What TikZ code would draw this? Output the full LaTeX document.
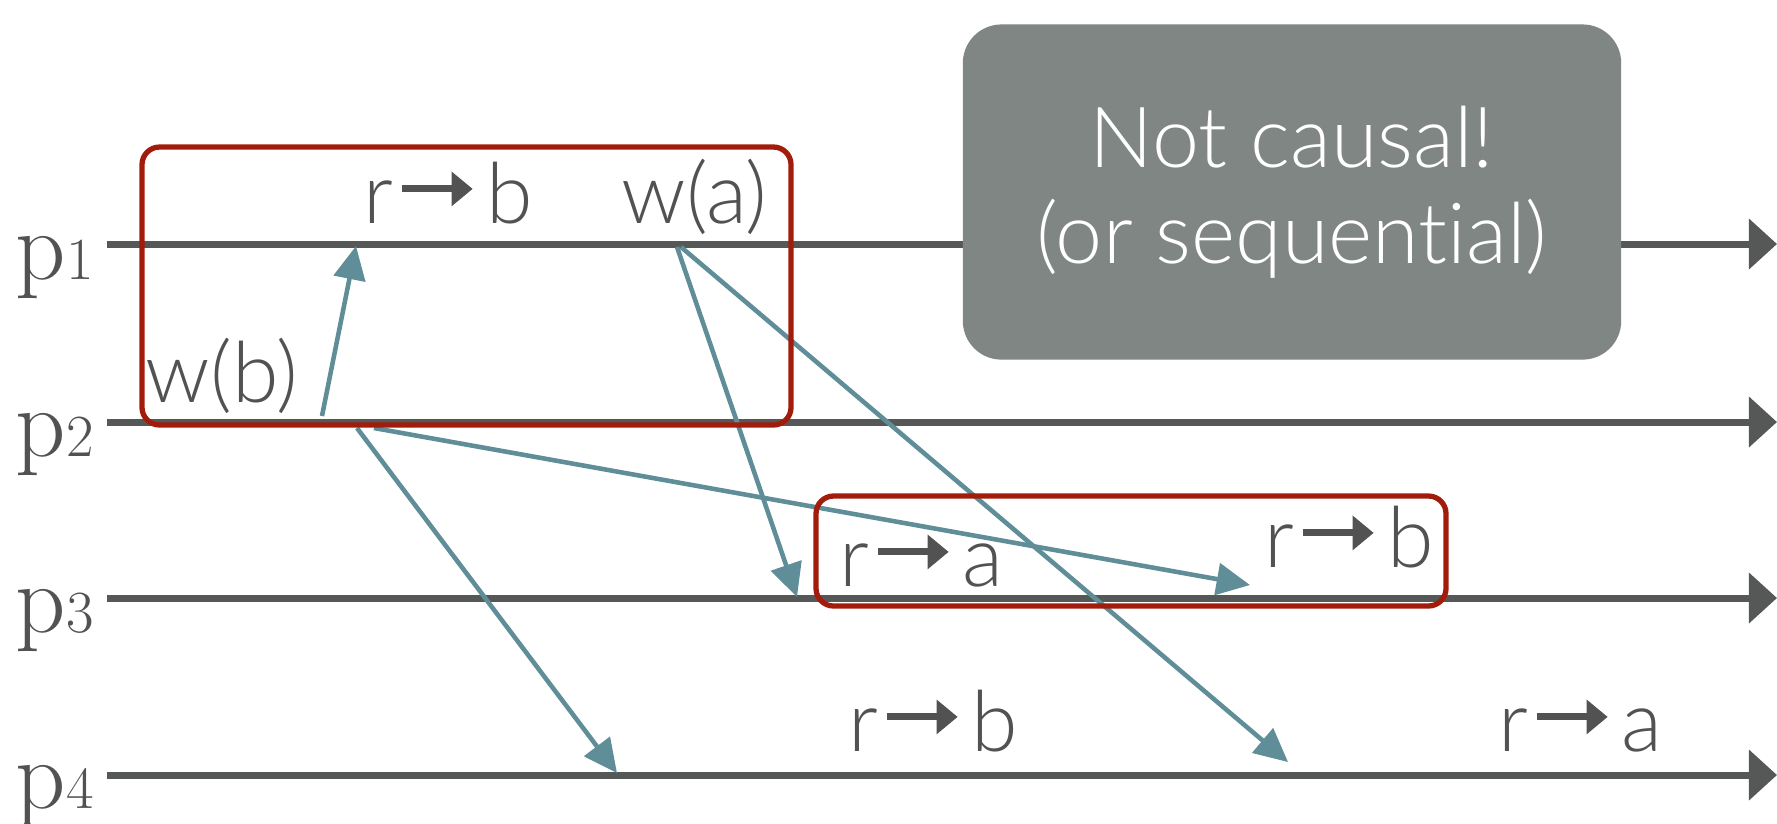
\documentclass[tikz,border=0pt]{standalone}
\usepackage{fontspec}
\newfontfamily\thinsans{Lato Light}[Ligatures=NoCommon]
\usetikzlibrary{arrows.meta, positioning}

\definecolor{procgray}{RGB}{85,88,87}
\definecolor{msgteal}{RGB}{95,142,152}
\definecolor{grpred}{RGB}{162,28,12}
\definecolor{notegray}{RGB}{128,134,131}
\definecolor{opgray}{RGB}{82,82,82}

% thick arrow used inside the read labels
\newcommand{\readsto}{\kern1.5pt\tikz[baseline=0pt]\draw[opgray, line width=2pt, -{Triangle[length=6pt,width=9.5pt]}] (0pt,9.7pt) -- (20pt,9.7pt);\kern3pt}
\newcommand{\pname}[1]{p{\fontsize{17}{17}\selectfont\oldstylenums{#1}}}

\tikzset{
  procline/.style={procgray, line width=2pt, -{Triangle[length=8pt,width=14pt]}},
  msg/.style={msgteal, line width=1.3pt, -{Triangle[length=9.5pt,width=9pt]}},
  grp/.style={grpred, line width=1.5pt, rounded corners=5pt},
  op/.style={text=opgray, font=\thinsans\fontsize{24}{28}\selectfont, inner sep=0pt, anchor=base west},
  proc/.style={text=opgray, font=\fontsize{28}{30}\selectfont, inner sep=0pt, anchor=base west},
  notebox/.style={fill=notegray, rounded corners=11pt, minimum width=6.58cm, minimum height=3.35cm,
    text=white, align=center, font=\thinsans\fontsize{24}{27.3}\selectfont},
}

\begin{document}
\begin{tikzpicture}[x=0.01cm, y=-0.01cm]
  \useasboundingbox (0,0) rectangle (1777,823);

  % processes
  \node[proc] (p1) at (15,279) {\pname{1}};
  \node[proc] (p2) at (15,456) {\pname{2}};
  \node[proc] (p3) at (15,632) {\pname{3}};
  \node[proc] (p4) at (15,808) {\pname{4}};

  \coordinate (s1) at (107,244);  \coordinate (e1) at (1777,244);
  \coordinate (s2) at (107,422);  \coordinate (e2) at (1777,422);
  \coordinate (s3) at (107,598);  \coordinate (e3) at (1777,598);
  \coordinate (s4) at (107,775);  \coordinate (e4) at (1777,775);

  \draw[procline] (s1) -- (e1);
  \draw[procline] (s2) -- (e2);
  \draw[procline] (s3) -- (e3);
  \draw[procline] (s4) -- (e4);

  % operations
  \node[op] (rb1) at (363,223) {r\readsto b};
  \node[op] (wa)  at (621,223) {w(a)};
  \node[op] (wb)  at (145,402) {w(b)};
  \node[op] (ra3) at (839,586) {r\readsto a};
  \node[op] (rb3) at (1264,567) {r\readsto b};
  \node[op] (rb4) at (848,751) {r\readsto b};
  \node[op] (ra4) at (1498,751) {r\readsto a};

  % messages
  \coordinate (wb1) at (322,416);
  \coordinate (wb2) at (357,428);
  \coordinate (wb3) at (374,428);
  \coordinate (wa1) at (677,247);
  \coordinate (wa2) at (681,247);
  \coordinate (in1) at (356,246);
  \coordinate (in4) at (617,773);
  \coordinate (in3) at (1250,585);
  \coordinate (ia3) at (797,597);
  \coordinate (ia4) at (1288,762);

  \draw[msg] (wb1) -- (in1);
  \draw[msg] (wb2) -- (in4);
  \draw[msg] (wb3) -- (in3);
  \draw[msg] (wa1) -- (ia3);
  \draw[msg] (wa2) -- (ia4);

  % groups
  \draw[grp] (142,147) rectangle (791,425);
  \draw[grp] (816,496) rectangle (1446,606);

  \node[notebox] (note) at (1292,192) {Not causal!\\(or sequential)};
\end{tikzpicture}
\end{document}
